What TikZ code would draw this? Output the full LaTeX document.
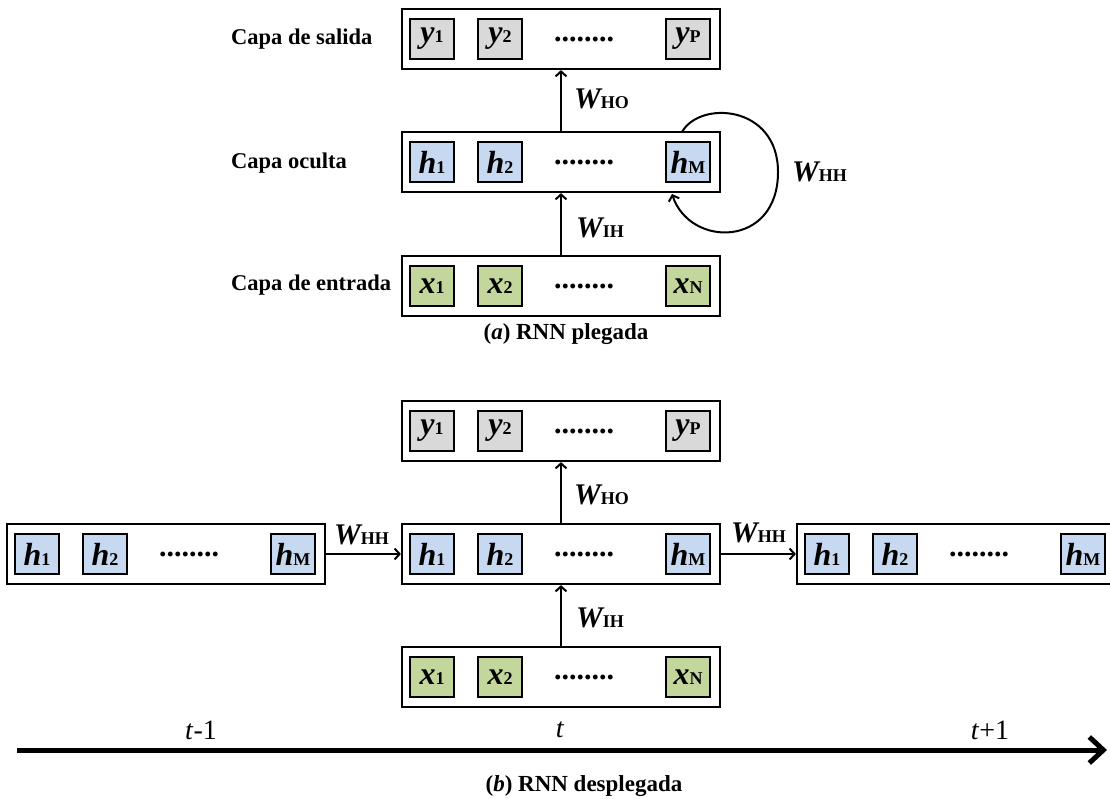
\documentclass[tikz,border=0pt]{standalone}
\usepackage{fontspec}
\setmainfont{Liberation Serif}
\usetikzlibrary{arrows.meta}

\definecolor{cellgray}{HTML}{D9D9D9}
\definecolor{cellblue}{HTML}{C6D9F1}
\definecolor{cellgreen}{HTML}{C3D69B}

% variable with a smaller upright index, sitting on the same baseline
\newcommand\cellv[2]{{\fontsize{32}{32}\selectfont\bfseries\itshape #1}{\fontsize{18}{18}\selectfont\bfseries #2}}
\newcommand\wmat[1]{{\fontsize{30}{30}\selectfont\bfseries\itshape W}{\fontsize{18}{18}\selectfont\bfseries #1}}

\tikzset{
  layerbox/.style={draw, line width=2.2pt, minimum width=318pt, minimum height=60pt, inner sep=0pt},
  cellbox/.style={draw, line width=2pt, minimum width=44pt, minimum height=40pt, inner sep=0pt},
  dotsnode/.style={inner sep=0pt, font=\fontsize{30}{30}\selectfont\bfseries},
  conn/.style={line width=2pt, -{Straight Barb[length=5pt,width=11pt]}},
  wlabel/.style={anchor=west, inner sep=0pt},
  layername/.style={anchor=west, inner sep=0pt, font=\fontsize{22.5}{22.5}\selectfont\bfseries},
  timelabel/.style={inner sep=0pt, font=\fontsize{28}{28}\selectfont},
  caption/.style={inner sep=0pt, font=\fontsize{23}{23}\selectfont\bfseries},
}

% one layer: outer box, two cells, the dots and the last cell
% #1 name, #2 left x, #3 centre y, #4 fill, #5 letter, #6 last index
\newcommand\mkrow[6]{%
  \node[layerbox] (#1) at (#2+159,#3) {};
  \node[cellbox, fill=#4] (#1-1) at (#2+30,#3) {\cellv{#5}{1}};
  \node[cellbox, fill=#4] (#1-2) at (#2+98,#3) {\cellv{#5}{2}};
  \node[dotsnode] (#1-d) at (#2+182,#3) {........};
  \node[cellbox, fill=#4] (#1-n) at (#2+286,#3) {\cellv{#5}{#6}};
}

\begin{document}
\begin{tikzpicture}[x=1pt, y=-1pt]
\useasboundingbox (0,0) rectangle (1110,798);
\begin{scope}
\clip (0,0) rectangle (1110,798);

% ---------- (a) folded network ----------
\mkrow{aout}{402}{39}{cellgray}{y}{P}
\mkrow{ahid}{402}{162}{cellblue}{h}{M}
\mkrow{ain}{402}{286}{cellgreen}{x}{N}

\node[layername] (lout) at (231,39) {Capa de salida};
\node[layername] (lhid) at (231,163) {Capa oculta};
\node[layername] (lin) at (231,285) {Capa de entrada};

\draw[conn] (ain.north -| 561,0) coordinate (aih0) -- (ahid.south -| aih0);
\draw[conn] (ahid.north -| 561,0) coordinate (aho0) -- (aout.south -| aho0);
\node[wlabel] (awho) at (574,99) {\wmat{HO}};
\node[wlabel] (awih) at (576,228) {\wmat{IH}};

% recurrent loop on the hidden layer
\coordinate (loopA) at (682,132);
\coordinate (loopR) at (778,172);
\coordinate (loopB) at (672,194);
\draw[conn] (loopA) .. controls (700,100) and (778,105) .. (loopR)
  .. controls (778,248) and (690,248) .. (loopB);
\node[wlabel] (awhh) at (792,172) {\wmat{HH}};

\node[caption] (capa) at (566,334) {(\textit{a}) RNN plegada};

% ---------- (b) unfolded network ----------
\mkrow{bout}{402}{431}{cellgray}{y}{P}
\mkrow{bhid}{402}{554}{cellblue}{h}{M}
\mkrow{bin}{402}{677}{cellgreen}{x}{N}
\mkrow{bprev}{7}{554}{cellblue}{h}{M}
\mkrow{bnext}{797}{554}{cellblue}{h}{M}

\draw[conn] (bin.north -| 561,0) coordinate (bih0) -- (bhid.south -| bih0);
\draw[conn] (bhid.north -| 561,0) coordinate (bho0) -- (bout.south -| bho0);
\node[wlabel] (bwho) at (574,495) {\wmat{HO}};
\node[wlabel] (bwih) at (576,618) {\wmat{IH}};

\draw[conn] (bprev.east) -- (bhid.west);
\draw[conn] (bhid.east) -- (bnext.west);
\node[wlabel] (bwhh1) at (334,535) {\wmat{HH}};
\node[wlabel] (bwhh2) at (731,533) {\wmat{HH}};

% time axis
\coordinate (tstart) at (17,750);
\coordinate (tend) at (1107,750);
\draw[line width=5pt, -{Straight Barb[length=14pt,width=26pt]}] (tstart) -- (tend);
\node[timelabel] (tm1) at (201,730) {\textit{t}-1};
\node[timelabel] (t0) at (560,730) {\textit{t}};
\node[timelabel] (tp1) at (990,730) {\textit{t}+1};

\node[caption] (capb) at (584,786) {(\textit{b}) RNN desplegada};
\end{scope}
\end{tikzpicture}
\end{document}
